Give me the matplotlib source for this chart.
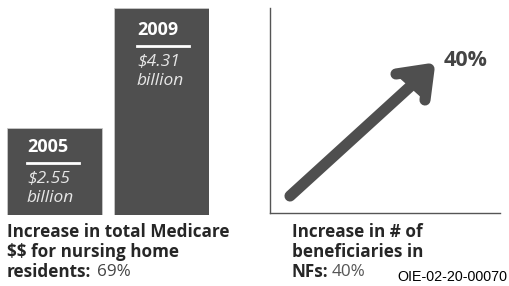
import matplotlib.pyplot as plt

plt.rcParams['text.parse_math'] = False

# Data
years = ['2005', '2009']
spending = [2.55, 4.31]  # billion $
spending_labels = ['$2.55', '$4.31']
pct_spending = '69%'
pct_beneficiaries = '40%'

W, H = 510, 286
bar_color = '#4f4f4f'
text_color = '#262626'
font = ['Open Sans', 'DejaVu Sans']


def fx(px):
    return px / W


def fy(py):
    return 1 - py / H


fig = plt.figure(figsize=(W / 100, H / 100), dpi=100)

# Left panel: bars
ax = fig.add_axes([fx(7), fy(215), fx(202), 207 / H])
x = [0, 1]
ax.bar(x, spending, width=0.888, color=bar_color, edgecolor='#c8c8c8', linewidth=0.6)
ax.set_xlim(-0.444, 1.444)
ax.set_ylim(1.274, 4.31)
ax.axis('off')

# labels inside bars
label_left = [27, 137]
label_top = [147, 30]
for i in range(len(years)):
    lx = label_left[i]
    ty = label_top[i]
    fig.text(fx(lx), fy(ty), years[i], color='white', fontsize=13, fontweight='bold',
             family=font, va='center', ha='left')
    fig.add_artist(plt.Line2D([fx(lx), fx(lx + 52)], [fy(ty + 16), fy(ty + 16)],
                              color='white', lw=2))
    fig.text(fx(lx), fy(ty + 31), spending_labels[i], color='#e6e6e6', fontsize=12.5,
             style='italic', family=font, va='center', ha='left')
    fig.text(fx(lx), fy(ty + 51), 'billion', color='#e6e6e6', fontsize=12.5,
             style='italic', family=font, va='center', ha='left')

# left caption
cap = 12.3
fig.text(fx(7), fy(232), 'Increase in total Medicare', color=text_color, fontsize=cap,
         fontweight='bold', family=font, va='center')
fig.text(fx(7), fy(252), '$$ for nursing home', color=text_color, fontsize=cap,
         fontweight='bold', family=font, va='center')
fig.text(fx(7), fy(272), 'residents:', color=text_color, fontsize=cap,
         fontweight='bold', family=font, va='center')
fig.text(fx(97), fy(272), pct_spending, color='#444444', fontsize=cap,
         family=font, va='center')

# Right panel: arrow
ax2 = fig.add_axes([fx(270), fy(213), fx(230), 205 / H])
ax2.set_xlim(270, 500)
ax2.set_ylim(213, 8)
for s in ['top', 'right']:
    ax2.spines[s].set_visible(False)
for s in ['left', 'bottom']:
    ax2.spines[s].set_color('#555555')
    ax2.spines[s].set_linewidth(1)
ax2.set_xticks([])
ax2.set_yticks([])

arrow_start = (290, 196)
arrow_tip = (429, 69)
head_left = (396, 74)
head_bottom = (425, 100)
ax2.plot([arrow_start[0], arrow_tip[0] - 4], [arrow_start[1], arrow_tip[1] + 4],
         color=bar_color, lw=8, solid_capstyle='round')
ax2.fill([head_left[0], arrow_tip[0], head_bottom[0]],
         [head_left[1], arrow_tip[1], head_bottom[1]], color=bar_color)
ax2.plot([head_left[0], arrow_tip[0], head_bottom[0]],
         [head_left[1], arrow_tip[1], head_bottom[1]],
         color=bar_color, lw=8, solid_capstyle='round', solid_joinstyle='round')

fig.text(fx(444), fy(60), pct_beneficiaries, color='#444444', fontsize=15.5,
         fontweight='bold', family=font, va='center')

# right caption
fig.text(fx(292), fy(232), 'Increase in # of', color=text_color, fontsize=cap,
         fontweight='bold', family=font, va='center')
fig.text(fx(292), fy(252), 'beneficiaries in', color=text_color, fontsize=cap,
         fontweight='bold', family=font, va='center')
fig.text(fx(292), fy(272), 'NFs:', color=text_color, fontsize=cap,
         fontweight='bold', family=font, va='center')
fig.text(fx(332), fy(272), pct_beneficiaries, color='#555555', fontsize=cap,
         family=font, va='center')

fig.text(fx(397), fy(277), 'OIE-02-20-00070', color='black', fontsize=10.3,
         family=['Liberation Sans', 'DejaVu Sans'], va='center')

fig.savefig('out.png', dpi=100, facecolor='white')
